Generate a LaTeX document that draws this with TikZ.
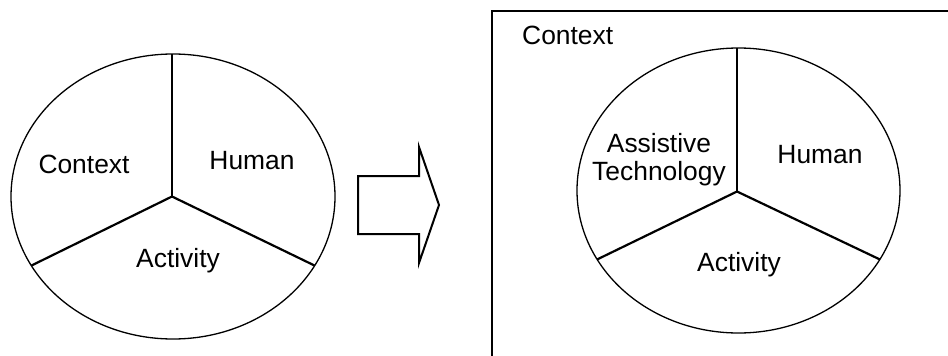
\documentclass[tikz,border=0pt]{standalone}
\usepackage{fontspec}
\setmainfont{Liberation Sans}
\usetikzlibrary{shapes.geometric}
\begin{document}
\begin{tikzpicture}[x=1pt,y=-1pt,
  oval/.style={ellipse,draw,line width=1.3pt,minimum width=324pt,minimum height=285pt,inner sep=0pt,outer sep=0pt},
  spoke/.style={line width=2.2pt},
  lbl/.style={font=\fontsize{26.4pt}{28pt}\selectfont,anchor=base,inner sep=0pt},
  frame/.style={line width=2.4pt},
  blockarrow/.style={line width=2pt,line join=miter}]
\useasboundingbox (0,0) rectangle (948,356);
% left
\node[oval] (e1) at (173,196.5) {};
\coordinate (h1) at (172,196.5);
\draw[spoke] (h1) -- (e1.north -| h1);
\draw[spoke] (h1) -- (e1.-26.4);
\draw[spoke] (h1) -- (e1.206.4);
\node[lbl] (c1) at (84,173) {Context};
\node[lbl] (hu1) at (252,169) {Human};
\node[lbl] (a1) at (178,267) {Activity};
% arrow
\draw[blockarrow] (358,176) coordinate (ar) -- (419,176) -- (419,147) -- (439,205) -- (419,263) -- (419,234) -- (358,234) -- cycle;
% right
\coordinate (fa) at (492,356);
\coordinate (fb) at (492,11);
\coordinate (fc) at (950,11);
\draw[frame] (fa) -- (fb) -- (fc);
\node[lbl,anchor=base west] (c2) at (522,44) {Context};
\node[oval,minimum width=323pt] (e2) at (738.5,190.5) {};
\coordinate (h2) at (737,191.5);
\draw[spoke] (h2) -- (e2.north -| h2);
\draw[spoke] (h2) -- (e2.-26.4);
\draw[spoke] (h2) -- (e2.206.4);
\node[lbl] (at1) at (659,152) {Assistive};
\node[lbl] (at2) at (659,180) {Technology};
\node[lbl] (hu2) at (820,163) {Human};
\node[lbl] (a2) at (739,271) {Activity};
\end{tikzpicture}
\end{document}
